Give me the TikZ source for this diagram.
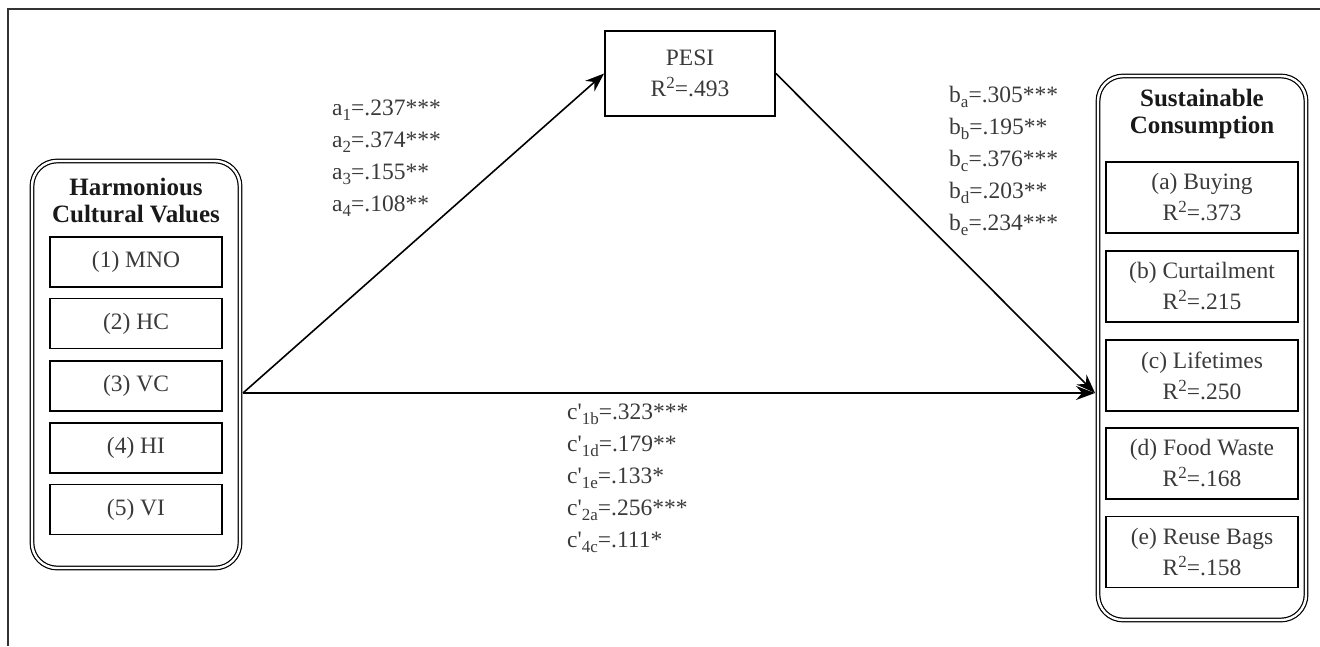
\documentclass[tikz,border=0pt]{standalone}
\usepackage{fontspec}
\setmainfont{Liberation Serif}
\usetikzlibrary{arrows.meta}
\definecolor{txt}{RGB}{58,58,58}
\newcommand\mysub[1]{\raisebox{-5.5pt}{\fontsize{17}{17}\selectfont #1}}
\newcommand\mysup[1]{\raisebox{8pt}{\fontsize{17}{17}\selectfont #1}}
\begin{document}
\begin{tikzpicture}[x=1pt,y=-1pt,
  every node/.style={font=\fontsize{23.5}{31}\selectfont, text=txt},
  item/.style={draw=black, line width=1.8pt, rectangle, inner sep=0pt, align=center},
  group/.style={draw=black, line width=1.2pt, double=white, double distance=2.4pt, rounded corners=25pt, inner sep=0pt},
  head/.style={font=\bfseries\fontsize{25}{27}\selectfont, text=black!90, align=center, inner sep=0pt},
  lab/.style={anchor=base west, inner sep=0pt},
  conn/.style={line width=1.6pt, -{Stealth[length=19pt,width=14pt]}}
]
\useasboundingbox (0,0) rectangle (1320,646);
% outer frame (cropped on right and bottom)
\draw[line width=1.5pt, black!80] (8,646) -- (8,9) -- (1320,9);

% left group
\node[group, minimum width=208pt, minimum height=407pt] (L) at (136,364.5) {};
\node[head] (Lh) at (136,201) {Harmonious\\Cultural Values};
\node[item, minimum width=172pt, minimum height=50pt] (L1) at (136,262) {(1) MNO};
\node[item, minimum width=172pt, minimum height=50pt] (L2) at (136,323.5) {(2) HC};
\node[item, minimum width=172pt, minimum height=50pt] (L3) at (136,386) {(3) VC};
\node[item, minimum width=172pt, minimum height=50pt] (L4) at (136,448) {(4) HI};
\node[item, minimum width=172pt, minimum height=50pt] (L5) at (136,509.5) {(5) VI};

% mediator
\node[item, minimum width=170pt, minimum height=85pt] (P) at (690,73.5) {PESI\\R\mysup{2}=.493};

% right group
\node[group, minimum width=208pt, minimum height=544pt] (R) at (1202,348) {};
\node[head] (Rh) at (1202,114) {Sustainable\\Consumption};
\node[item, minimum width=192pt, minimum height=71pt] (Ra) at (1202,197.5) {(a) Buying\\R\mysup{2}=.373};
\node[item, minimum width=192pt, minimum height=71pt] (Rb) at (1202,286.5) {(b) Curtailment\\R\mysup{2}=.215};
\node[item, minimum width=192pt, minimum height=71pt] (Rc) at (1202,375.5) {(c) Lifetimes\\R\mysup{2}=.250};
\node[item, minimum width=192pt, minimum height=71pt] (Rd) at (1202,463.5) {(d) Food Waste\\R\mysup{2}=.168};
\node[item, minimum width=192pt, minimum height=71pt] (Re) at (1202,552) {(e) Reuse Bags\\R\mysup{2}=.158};

% connectors
\coordinate (Ls) at (243,393);
\coordinate (Rin) at (1095,393);
\draw[conn] (Ls) -- (P.west);
\draw[conn] (Ls) -- (Rin);
\draw[conn] (P.east) -- (Rin);

% a labels
\node[lab] (a1) at (332,115) {a\mysub{1}=.237***};
\node[lab] (a2) at (332,147) {a\mysub{2}=.374***};
\node[lab] (a3) at (332,179) {a\mysub{3}=.155**};
\node[lab] (a4) at (332,211) {a\mysub{4}=.108**};

% b labels
\node[lab] (ba) at (949,102) {b\mysub{a}=.305***};
\node[lab] (bb) at (949,134) {b\mysub{b}=.195**};
\node[lab] (bc) at (949,166) {b\mysub{c}=.376***};
\node[lab] (bd) at (949,198) {b\mysub{d}=.203**};
\node[lab] (be) at (949,230) {b\mysub{e}=.234***};

% c' labels
\node[lab] (c1) at (567,419) {c\textquotesingle\mysub{1b}=.323***};
\node[lab] (c2) at (567,451) {c\textquotesingle\mysub{1d}=.179**};
\node[lab] (c3) at (567,483) {c\textquotesingle\mysub{1e}=.133*};
\node[lab] (c4) at (567,515) {c\textquotesingle\mysub{2a}=.256***};
\node[lab] (c5) at (567,547) {c\textquotesingle\mysub{4c}=.111*};
\end{tikzpicture}
\end{document}
